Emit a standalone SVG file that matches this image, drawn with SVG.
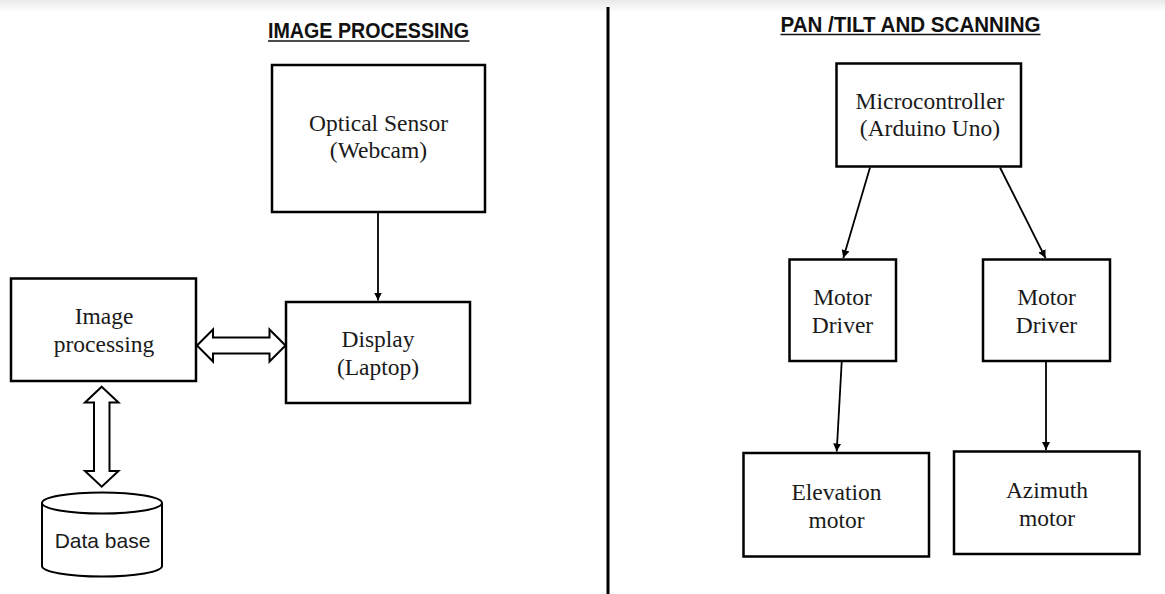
<svg xmlns="http://www.w3.org/2000/svg" width="1165" height="594" viewBox="0 0 1165 594">
<style>
.box{fill:#fff;stroke:#000;stroke-width:2.5}
.lbl{font-family:"Liberation Serif","Times New Roman",serif;font-size:23.5px;fill:#1a1a1a;text-anchor:middle}
.ttl{font-family:"Liberation Sans",Arial,sans-serif;font-size:22px;font-weight:bold;fill:#111}
.ul{stroke:#111;stroke-width:1.6}
.conn{stroke:#000;stroke-width:1.8;fill:none}
.dbl{fill:#fff;stroke:#000;stroke-width:2;stroke-linejoin:miter}
.db{font-family:"Liberation Sans",Arial,sans-serif;font-size:21px;fill:#1a1a1a;text-anchor:middle}
</style>
<defs>
<linearGradient id="shade" x1="0" y1="0" x2="0" y2="1">
<stop offset="0" stop-color="#e9e9e9"/>
<stop offset="1" stop-color="#ffffff"/>
</linearGradient>
<marker id="ah" markerUnits="userSpaceOnUse" markerWidth="9" markerHeight="8" refX="8" refY="4" orient="auto">
<path d="M0,0 L8,4 L0,8 z" fill="#000"/>
</marker>
</defs>
<rect x="0" y="0" width="1165" height="594" fill="#fff"/>
<rect x="0" y="0" width="1165" height="12" fill="url(#shade)"/>
<line x1="608" y1="7" x2="608" y2="594" stroke="#000" stroke-width="3"/>
<g id="title-left">
<text class="ttl" x="268" y="38" textLength="201" lengthAdjust="spacingAndGlyphs">IMAGE PROCESSING</text>
<line class="ul" x1="268" y1="41" x2="469.5" y2="41"/>
</g>
<g id="title-right">
<text class="ttl" x="780.5" y="32" textLength="260" lengthAdjust="spacingAndGlyphs">PAN /TILT AND SCANNING</text>
<line class="ul" x1="780.5" y1="34.5" x2="1040.5" y2="34.5"/>
</g>
<g id="optical-sensor">
<rect class="box" x="272" y="65" width="213" height="147"/>
<text class="lbl" x="378.5" y="130.5">Optical Sensor</text>
<text class="lbl" x="378.5" y="158">(Webcam)</text>
</g>
<g id="display">
<rect class="box" x="286" y="302" width="184" height="101"/>
<text class="lbl" x="378" y="347">Display</text>
<text class="lbl" x="378" y="374.5">(Laptop)</text>
</g>
<g id="image-processing">
<rect class="box" x="11" y="278.5" width="185" height="102.5"/>
<text class="lbl" x="104" y="324">Image</text>
<text class="lbl" x="104" y="351.5">processing</text>
</g>
<g id="database">
<path d="M42,503 L42,566 A60,10.5 0 0 0 162,566 L162,503" fill="#fff" stroke="#000" stroke-width="2"/>
<ellipse cx="102" cy="503" rx="60" ry="10.5" fill="#fff" stroke="#000" stroke-width="2"/>
<text class="db" x="102.5" y="548">Data base</text>
</g>
<g id="microcontroller">
<rect class="box" x="836.5" y="63.5" width="184.5" height="103"/>
<text class="lbl" x="930" y="108.5">Microcontroller</text>
<text class="lbl" x="930" y="135.5">(Arduino Uno)</text>
</g>
<g id="motor-driver-left">
<rect class="box" x="789.5" y="259.5" width="106.5" height="101.5"/>
<text class="lbl" x="842.5" y="305">Motor</text>
<text class="lbl" x="842.5" y="333">Driver</text>
</g>
<g id="motor-driver-right">
<rect class="box" x="983" y="259.5" width="127" height="101.5"/>
<text class="lbl" x="1046.5" y="305">Motor</text>
<text class="lbl" x="1046.5" y="333">Driver</text>
</g>
<g id="elevation-motor">
<rect class="box" x="743.5" y="453" width="185.5" height="103.5"/>
<text class="lbl" x="836.5" y="499.5">Elevation</text>
<text class="lbl" x="836.5" y="527.5">motor</text>
</g>
<g id="azimuth-motor">
<rect class="box" x="954" y="451.5" width="185.5" height="102.5"/>
<text class="lbl" x="1047" y="498">Azimuth</text>
<text class="lbl" x="1047" y="526">motor</text>
</g>
<g id="connectors">
<line class="conn" x1="378" y1="213" x2="378" y2="300.5" marker-end="url(#ah)"/>
<polygon class="dbl" points="197,345.5 213,329.5 213,337.5 269.5,337.5 269.5,329.5 285.5,345.5 269.5,361.5 269.5,353.5 213,353.5 213,361.5"/>
<polygon class="dbl" points="101.7,386.7 118.5,402.5 109.5,402.5 109.5,471 118.5,471 101.7,486.7 85,471 94,471 94,402.5 85,402.5"/>
<line class="conn" x1="870" y1="167.5" x2="843.3" y2="258" marker-end="url(#ah)"/>
<line class="conn" x1="1000" y1="167.5" x2="1045.5" y2="258" marker-end="url(#ah)"/>
<line class="conn" x1="841.7" y1="362" x2="836.7" y2="451.5" marker-end="url(#ah)"/>
<line class="conn" x1="1046" y1="362" x2="1046" y2="450" marker-end="url(#ah)"/>
</g>
</svg>
